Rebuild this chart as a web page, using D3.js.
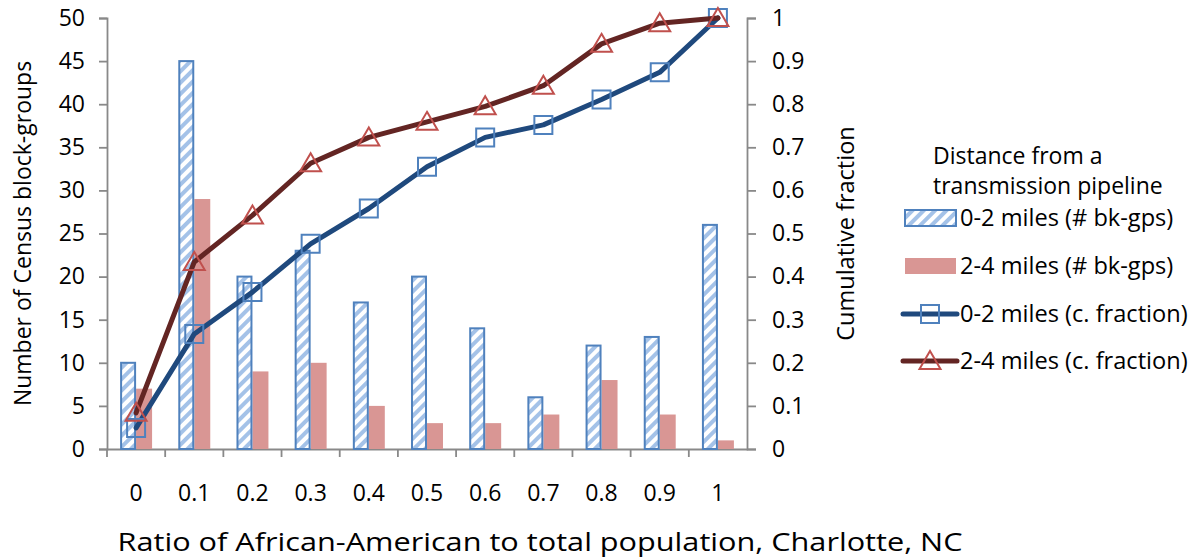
<!DOCTYPE html>
<html>
<head>
<meta charset="utf-8">
<script src="https://cdn.jsdelivr.net/npm/d3@7"></script>
<style>
  html, body { margin: 0; padding: 0; background: #fff; }
  svg { display: block; font-family: "Open Sans", sans-serif; }
</style>
</head>
<body>
<svg id="chart" width="1204" height="558"></svg>
<script>
// Block-group ratio classes (x axis categories)
const categories = ["0", "0.1", "0.2", "0.3", "0.4", "0.5", "0.6", "0.7", "0.8", "0.9", "1"];

// Number of census block-groups per class
const bkGps02 = [10, 45, 20, 23, 17, 20, 14, 6, 12, 13, 26];
const bkGps24 = [7, 29, 9, 10, 5, 3, 3, 4, 8, 4, 1];

// Cumulative fractions per class
const cumFrac02 = [0.049, 0.267, 0.364, 0.476, 0.558, 0.655, 0.723, 0.752, 0.811, 0.874, 1];
const cumFrac24 = [0.084, 0.434, 0.542, 0.663, 0.723, 0.759, 0.795, 0.843, 0.940, 0.988, 1];

// Axis ticks
const leftTicks = [0, 5, 10, 15, 20, 25, 30, 35, 40, 45, 50];
const rightTicks = [0, 0.1, 0.2, 0.3, 0.4, 0.5, 0.6, 0.7, 0.8, 0.9, 1];
const rightTickLabels = ["0", "0.1", "0.2", "0.3", "0.4", "0.5", "0.6", "0.7", "0.8", "0.9", "1"];

// Text
const legendTitle = ["Distance from a", "transmission pipeline"];
const seriesNames = ["0-2 miles (# bk-gps)", "2-4 miles (# bk-gps)", "0-2 miles (c. fraction)", "2-4 miles (c. fraction)"];
const leftTitle = "Number of Census block-groups";
const rightTitle = "Cumulative fraction";
const xTitle = "Ratio of African-American to total population, Charlotte, NC";

// Styling
const axisColor = "#898989";
const barBlueStroke = "#4F81BD";
const hatchColor = "#A4C2E8";
const barPink = "#D99694";
const lineBlue = "#1F497D";
const lineRed = "#632523";
const markerBlue = "#4F81BD";
const markerRed = "#C0504D";

const plot = { left: 107, right: 747, top: 18, bottom: 449 };

const svg = d3.select("#chart");

// Diagonal hatch fill for the 0-2 mile bars
const defs = svg.append("defs");
const pat = defs.append("pattern")
  .attr("id", "hatch")
  .attr("patternUnits", "userSpaceOnUse")
  .attr("width", 8).attr("height", 8)
  .attr("patternTransform", "rotate(45)");
pat.append("rect").attr("width", 8).attr("height", 8).attr("fill", "#fff");
pat.append("rect").attr("width", 4).attr("height", 8).attr("fill", hatchColor);

// Scales
const x = d3.scaleBand().domain(categories).range([plot.left, plot.right]).padding(0);
const xSub = d3.scaleBand().domain(["a", "b"]).range([0, x.bandwidth()])
  .paddingInner(0).paddingOuter(0.82);
const yL = d3.scaleLinear().domain([0, 50]).range([plot.bottom, plot.top]);
const yR = d3.scaleLinear().domain([0, 1]).range([plot.bottom, plot.top]);

// Axes
function styleAxis(g) {
  g.selectAll(".domain").attr("stroke", axisColor).attr("stroke-width", 1.8);
  g.selectAll(".tick line").attr("stroke", axisColor).attr("stroke-width", 1.8);
  g.selectAll(".tick text").attr("fill", "#000").style("font-size", "23px")
    .style("font-family", "'Open Sans', sans-serif");
}

const gL = svg.append("g")
  .attr("transform", `translate(${plot.left},0)`)
  .call(d3.axisLeft(yL).tickValues(leftTicks).tickSize(8).tickSizeOuter(8).tickPadding(14)
    .tickFormat(d3.format("d")));
styleAxis(gL);

const gR = svg.append("g")
  .attr("transform", `translate(${plot.right},0)`)
  .call(d3.axisRight(yR).tickValues(rightTicks).tickSize(9).tickSizeOuter(9).tickPadding(16)
    .tickFormat((d, i) => rightTickLabels[i]));
styleAxis(gR);

// x axis: labels at band centres, tick marks on band boundaries
const gX = svg.append("g")
  .attr("transform", `translate(0,${plot.bottom})`)
  .call(d3.axisBottom(x).tickSize(0).tickPadding(44).tickSizeOuter(0));
styleAxis(gX);
gX.selectAll(".tick text").attr("dy", "0.35em");
gX.selectAll(".boundary")
  .data(categories)
  .join("line")
  .attr("class", "boundary")
  .attr("x1", d => x(d)).attr("x2", d => x(d))
  .attr("y1", 0).attr("y2", 8)
  .attr("stroke", axisColor).attr("stroke-width", 1.8);

// Bars
const gBars = svg.append("g");
gBars.selectAll(".bar24")
  .data(bkGps24)
  .join("rect")
  .attr("class", "bar24")
  .attr("x", (d, i) => x(categories[i]) + xSub("b"))
  .attr("width", xSub.bandwidth())
  .attr("y", d => yL(d))
  .attr("height", d => yL(0) - yL(d))
  .attr("fill", barPink);

gBars.selectAll(".bar02")
  .data(bkGps02)
  .join("rect")
  .attr("class", "bar02")
  .attr("x", (d, i) => x(categories[i]) + xSub("a") + 1)
  .attr("width", xSub.bandwidth() - 2)
  .attr("y", d => yL(d))
  .attr("height", d => yL(0) - yL(d))
  .attr("fill", "url(#hatch)")
  .attr("stroke", barBlueStroke)
  .attr("stroke-width", 2);

// Cumulative lines
const cx = i => x(categories[i]) + x.bandwidth() / 2;
const line = d3.line()
  .x((d, i) => cx(i))
  .y(d => yR(d))
  .curve(d3.curveLinear);

function drawSeries(values, color, markerColor, shape) {
  const g = svg.append("g");
  g.append("path")
    .datum(values)
    .attr("d", line)
    .attr("fill", "none")
    .attr("stroke", color)
    .attr("stroke-width", 5)
    .attr("stroke-linecap", "round")
    .attr("stroke-linejoin", "round");
  g.selectAll(".m")
    .data(values)
    .join("path")
    .attr("class", "m")
    .attr("transform", (d, i) => `translate(${cx(i)},${yR(d)})`)
    .attr("d", shape)
    .attr("fill", "none")
    .attr("stroke", markerColor)
    .attr("stroke-width", 2);
}

const squarePath = "M-9,-9H9V9H-9Z";
const trianglePath = "M0,-10L10.5,8H-10.5Z";

drawSeries(cumFrac02, lineBlue, markerBlue, squarePath);
drawSeries(cumFrac24, lineRed, markerRed, trianglePath);

// Axis titles
svg.append("text")
  .attr("transform", `translate(31,${(plot.top + plot.bottom) / 2}) rotate(-90)`)
  .attr("text-anchor", "middle")
  .style("font-size", "23px")
  .text(leftTitle);

svg.append("text")
  .attr("transform", `translate(854,${(plot.top + plot.bottom) / 2}) rotate(-90)`)
  .attr("text-anchor", "middle")
  .style("font-size", "23.5px")
  .text(rightTitle);

svg.append("text")
  .attr("x", 540).attr("y", 551)
  .attr("text-anchor", "middle")
  .attr("textLength", 845)
  .attr("lengthAdjust", "spacingAndGlyphs")
  .style("font-size", "25px")
  .text(xTitle);

// Legend
const lg = svg.append("g");
const lt = lg.append("text")
  .attr("x", 933)
  .attr("y", 164)
  .style("font-size", "23px");
lt.selectAll("tspan")
  .data(legendTitle)
  .join("tspan")
  .attr("x", 933)
  .attr("dy", (d, i) => i === 0 ? 0 : 30)
  .text(d => d);

const itemY = [218, 266, 314, 361];
const swX = 905, swW = 51;

lg.append("rect")
  .attr("x", swX).attr("y", itemY[0] - 8).attr("width", swW).attr("height", 16)
  .attr("fill", "url(#hatch)").attr("stroke", barBlueStroke).attr("stroke-width", 2);
lg.append("rect")
  .attr("x", swX).attr("y", itemY[1] - 8).attr("width", swW).attr("height", 16)
  .attr("fill", barPink);

[[lineBlue, markerBlue, squarePath, itemY[2]], [lineRed, markerRed, trianglePath, itemY[3]]]
  .forEach(([lc, mc, shape, yy]) => {
    lg.append("line")
      .attr("x1", 903).attr("x2", 957).attr("y1", yy).attr("y2", yy)
      .attr("stroke", lc).attr("stroke-width", 5).attr("stroke-linecap", "round");
    lg.append("path")
      .attr("transform", `translate(930,${yy})`)
      .attr("d", shape)
      .attr("fill", "none").attr("stroke", mc).attr("stroke-width", 2);
  });

lg.selectAll(".li")
  .data(seriesNames)
  .join("text")
  .attr("class", "li")
  .attr("x", 960)
  .attr("y", (d, i) => itemY[i])
  .attr("dy", "0.36em")
  .style("font-size", "23.6px")
  .text(d => d);
</script>
</body>
</html>
